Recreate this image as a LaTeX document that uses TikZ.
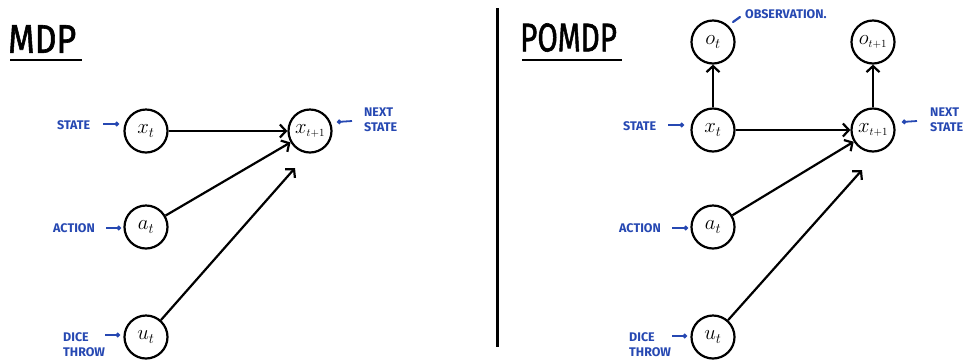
\documentclass[tikz,border=0pt]{standalone}
\usepackage{fontspec}
\setmainfont{Fira Sans}
\usetikzlibrary{arrows.meta}
\definecolor{inkblue}{RGB}{38,72,178}
\tikzset{
  var/.style={circle, draw, line width=2.2pt, minimum size=43pt, inner sep=0pt, font=\fontsize{22}{24}\selectfont},
  link/.style={line width=2.2pt, -{Straight Barb[length=6pt,width=13pt,line width=2.2pt]}},
  note/.style={text=inkblue, font=\bfseries\fontsize{12.5}{15}\selectfont, inner sep=0pt, align=left},
  tag/.style={draw=inkblue, line width=1.8pt, -{Circle[length=4.5pt]}, color=inkblue},
  heading/.style={font=\fontsize{40}{42}\selectfont\addfontfeature{FakeBold=1.6}, inner sep=0pt, anchor=south west},
  rule/.style={line width=2.6pt}
}
\newcommand{\nxt}[1]{#1_{\scriptscriptstyle t+1}}
\begin{document}
\begin{tikzpicture}[x=1pt, y=-1pt]
\useasboundingbox (0,0) rectangle (963,360);

% ---------------- MDP ----------------
\node[heading] (tmdp) at (8,53) {\scalebox{0.85}[1]{MDP}};
\draw[rule] (10,60) -- (82,60);

\node[var] (mx)  at (146,131) {$x_t$};
\node[var] (mx1) at (310,131) {$\nxt{x}$};
\node[var] (ma)  at (146,227) {$a_t$};
\node[var] (mu)  at (146,337) {$u_t$};

\coordinate (mx1in) at (295,168);
\draw[link] (mx) -- (mx1);
\draw[link] (ma) -- (mx1);
\draw[link] (mu) -- (mx1in);

\node[note, anchor=west] (ms) at (57,125) {STATE};
\node[note, anchor=west] (mac) at (53,228) {ACTION};
\node[note, anchor=west] (md) at (63,345) {DICE\\THROW};
\node[note, anchor=west] (mn) at (364,120) {NEXT\\STATE};

\coordinate (ms1) at (103,124);  \coordinate (ms2) at (119,124);
\coordinate (ma1) at (106,228);  \coordinate (ma2) at (121,228);
\coordinate (md1) at (105,335);  \coordinate (md2) at (120,335);
\coordinate (mn1) at (352,121);  \coordinate (mn2) at (337,122);
\draw[tag] (ms1) -- (ms2);
\draw[tag] (ma1) -- (ma2);
\draw[tag] (md1) -- (md2);
\draw[tag] (mn1) -- (mn2);

% divider
\draw[line width=2.2pt] (497.5,8) -- (497.5,347);

% ---------------- POMDP ----------------
\node[heading] (tpomdp) at (520,52) {\scalebox{0.74}[1]{POMDP}};
\draw[rule] (522,60) -- (622,60);

\node[var] (po)  at (713,42)  {$o_t$};
\node[var] (po1) at (873,42)  {$\nxt{o}$};
\node[var] (px)  at (713,130) {$x_t$};
\node[var] (px1) at (873,130) {$\nxt{x}$};
\node[var] (pa)  at (713,227) {$a_t$};
\node[var] (pu)  at (713,337) {$u_t$};

\coordinate (px1in) at (862,170);
\draw[link] (px) -- (po);
\draw[link] (px1) -- (po1);
\draw[link] (px) -- (px1);
\draw[link] (pa) -- (px1);
\draw[link] (pu) -- (px1in);

\node[note, anchor=west] (pob) at (745,14) {OBSERVATION.};
\node[note, anchor=west] (ps) at (623,126) {STATE};
\node[note, anchor=west] (pac) at (619,228) {ACTION};
\node[note, anchor=west] (pd) at (629,345) {DICE\\THROW};
\node[note, anchor=west] (pn) at (930,120) {NEXT\\STATE};

\coordinate (ps1) at (668,125);  \coordinate (ps2) at (684,125);
\coordinate (pa1) at (672,228);  \coordinate (pa2) at (688,228);
\coordinate (pd1) at (672,336);  \coordinate (pd2) at (687,336);
\coordinate (pn1) at (917,121);  \coordinate (pn2) at (902,122);
\coordinate (pob1) at (740,17);  \coordinate (pob2) at (733,22);
\draw[tag] (ps1) -- (ps2);
\draw[tag] (pa1) -- (pa2);
\draw[tag] (pd1) -- (pd2);
\draw[tag] (pn1) -- (pn2);
\draw[draw=inkblue, line width=2.2pt, line cap=round] (pob1) -- (pob2);
\end{tikzpicture}
\end{document}
